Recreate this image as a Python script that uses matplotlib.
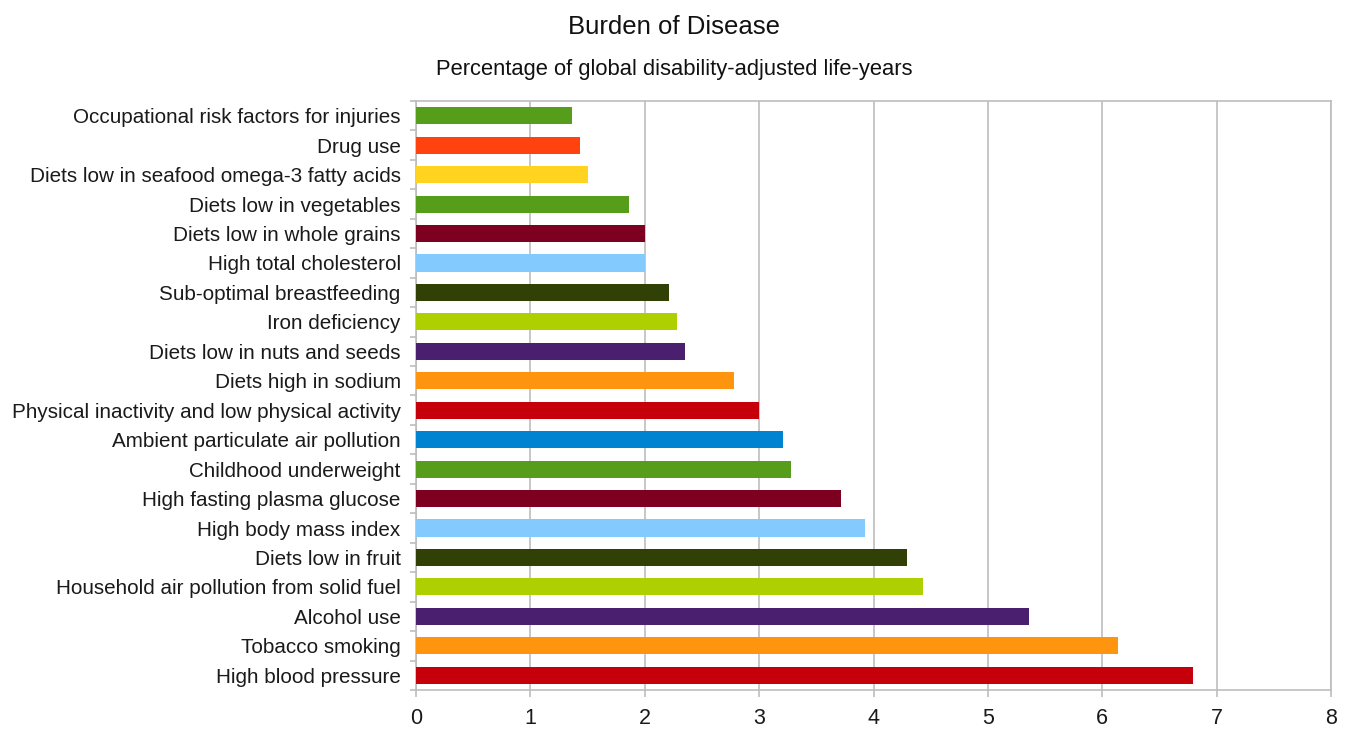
import matplotlib
matplotlib.use("Agg")
import matplotlib.pyplot as plt
import numpy as np

# Risk factors, bottom to top
categories = [
    "High blood pressure",
    "Tobacco smoking",
    "Alcohol use",
    "Household air pollution from solid fuel",
    "Diets low in fruit",
    "High body mass index",
    "High fasting plasma glucose",
    "Childhood underweight",
    "Ambient particulate air pollution",
    "Physical inactivity and low physical activity",
    "Diets high in sodium",
    "Diets low in nuts and seeds",
    "Iron deficiency",
    "Sub-optimal breastfeeding",
    "High total cholesterol",
    "Diets low in whole grains",
    "Diets low in vegetables",
    "Diets low in seafood omega-3 fatty acids",
    "Drug use",
    "Occupational risk factors for injuries",
]
values = [6.79, 6.14, 5.36, 4.43, 4.29, 3.93, 3.72, 3.28, 3.21, 3.00,
          2.78, 2.35, 2.28, 2.21, 2.00, 2.00, 1.86, 1.50, 1.43, 1.36]
colors = ["#C5000B", "#FF950E", "#4B1F6F", "#AECF00", "#314004", "#83CAFF",
          "#7E0021", "#579D1C", "#0084D1", "#C5000B", "#FF950E", "#4B1F6F",
          "#AECF00", "#314004", "#83CAFF", "#7E0021", "#579D1C", "#FFD320",
          "#FF420E", "#579D1C"]
x_ticks = [0, 1, 2, 3, 4, 5, 6, 7, 8]

plt.rcParams['font.family'] = ['Liberation Sans', 'DejaVu Sans']

fig = plt.figure(figsize=(13.48, 7.31), dpi=100)
ax = fig.add_axes([416/1348, 1 - 690/731, (1331 - 416)/1348, (690 - 101)/731])

y = np.arange(len(categories))
ax.barh(y, values, height=0.58, color=colors, zorder=3)

ax.set_xlim(0, 8)
ax.set_ylim(-0.5, len(categories) - 0.5)
ax.set_xticks(x_ticks)
ax.set_xticklabels([str(t) for t in x_ticks])
ax.set_yticks(y)
ax.set_yticklabels(categories)
ax.set_yticks(np.arange(-0.5, len(categories), 1.0), minor=True)

grid_c = "#BDBDBD"
ax.grid(axis="x", color=grid_c, linewidth=1.2, zorder=0)
for s in ax.spines.values():
    s.set_color(grid_c)
    s.set_linewidth(1.2)

ax.tick_params(axis="y", which="major", length=0, pad=11, labelsize=14.9, labelcolor="#1a1a1a")
ax.tick_params(axis="y", which="minor", length=4, width=1.2, color=grid_c, direction="out")
ax.tick_params(axis="x", which="major", length=5, width=1.2, color=grid_c, pad=8,
               labelsize=15.5, labelcolor="#1a1a1a")

fig.text(0.5, 1 - 27/731, "Burden of Disease", ha="center", va="center", fontsize=18.5, color="#111111")
fig.text(0.5, 1 - 69/731, "Percentage of global disability-adjusted life-years",
         ha="center", va="center", fontsize=15.8, color="#111111")

fig.savefig("out.png", dpi=100, facecolor="white")
